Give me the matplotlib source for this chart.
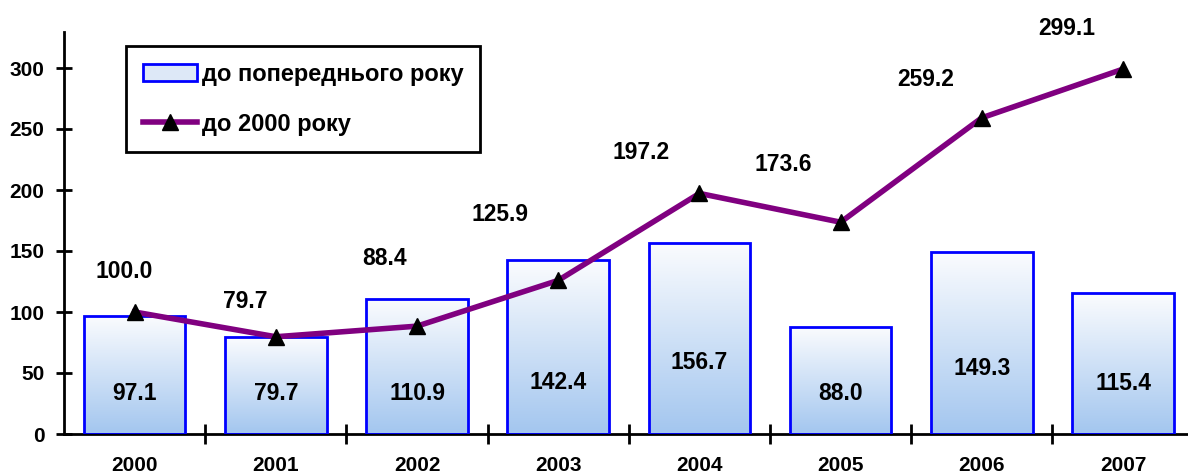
import matplotlib
matplotlib.use("Agg")
import matplotlib.pyplot as plt
import numpy as np
from matplotlib.patches import Rectangle
from matplotlib.colors import LinearSegmentedColormap
from matplotlib.lines import Line2D

years = ["2000", "2001", "2002", "2003", "2004", "2005", "2006", "2007"]
prev_year = [97.1, 79.7, 110.9, 142.4, 156.7, 88.0, 149.3, 115.4]
to_2000 = [100.0, 79.7, 88.4, 125.9, 197.2, 173.6, 259.2, 299.1]
yticks = [0, 50, 100, 150, 200, 250, 300]

# label placement (style)
line_lbl_dx = [-10, -31, -32, -58, -58, -57, -56, -56]   # pixels
line_lbl_dy = [40, 35, 68, 66, 41, 58, 38, 41]           # pixels
bar_lbl_y = [33.6, 33.6, 33.6, 42.6, 59.0, 33.6, 53.3, 41.8]

plt.rcParams['font.family'] = ['Liberation Sans', 'DejaVu Sans']
plt.rcParams['font.weight'] = 'bold'

fig = plt.figure(figsize=(11.88, 4.76), dpi=100)
ax = fig.add_axes([64/1188, 1-434/476, 1-64/1188, (434-32)/476])

x = np.arange(len(years))
cmap = LinearSegmentedColormap.from_list("g", ["#a3c6ef", "#fbfcfe"])
grad = np.linspace(0, 1, 256).reshape(-1, 1)
bw = 0.72
for xi, v in zip(x, prev_year):
    rect = Rectangle((xi - bw/2, 0), bw, v, facecolor="none", edgecolor="#0000ff", lw=2, zorder=3)
    ax.add_patch(rect)
    im = ax.imshow(grad, extent=(xi - bw/2, xi + bw/2, 0, v), origin="lower",
                   cmap=cmap, aspect="auto", zorder=2)
    im.set_clip_path(rect)

ax.plot(x, to_2000, color="#800080", lw=4, zorder=4)
ax.plot(x, to_2000, ls="none", marker="^", color="black", ms=12, zorder=5)

for xi, v, dx, dy in zip(x, to_2000, line_lbl_dx, line_lbl_dy):
    ax.annotate(f"{v:.1f}", (xi, v), xytext=(dx*0.72, dy*0.72), textcoords="offset points",
                ha="center", va="center", fontsize=16.5, fontweight="bold")
for xi, v, ly in zip(x, prev_year, bar_lbl_y):
    ax.text(xi, ly, f"{v:.1f}", ha="center", va="center", fontsize=16.5, fontweight="bold", zorder=6)

ax.set_aspect("auto")
ax.set_xlim(-0.5, 7.46)
ax.set_ylim(0, (434-32)/1.22)

for s in ["top", "right"]:
    ax.spines[s].set_visible(False)
ax.spines["left"].set_linewidth(2)
ax.spines["bottom"].set_linewidth(2)

ax.set_yticks(yticks)
ax.set_yticklabels([str(t) for t in yticks], fontsize=15, fontweight="bold")
ax.tick_params(axis="y", direction="inout", length=12, width=2, pad=8)

ax.set_xticks(np.arange(0.5, 7.5, 1))
ax.set_xticklabels([])
ax.set_xticks(x, minor=True)
ax.set_xticklabels(years, minor=True, fontsize=15, fontweight="bold")
ax.tick_params(axis="x", which="major", direction="inout", length=14, width=2)
ax.tick_params(axis="x", which="minor", length=0, pad=16)

h1 = Rectangle((0, 0), 1, 1, facecolor="#dde8f7", edgecolor="#0000ff", lw=2)
h2 = Line2D([], [], color="#800080", lw=4, marker="^", mfc="black", mec="black", ms=12)
leg = ax.legend([h1, h2], ["до попереднього року", "до 2000 року"],
                loc="upper left", bbox_to_anchor=((126-64)/1124, 1-(46-32)/402),
                fontsize=17, frameon=True, fancybox=False, edgecolor="black", framealpha=1,
                handlelength=2.3, handleheight=0.7, handletextpad=0.2, labelspacing=1.15,
                borderpad=0.7, borderaxespad=0)
leg.get_frame().set_linewidth(2)
for t in leg.get_texts():
    t.set_fontweight("bold")

fig.savefig("out.png", dpi=100)
